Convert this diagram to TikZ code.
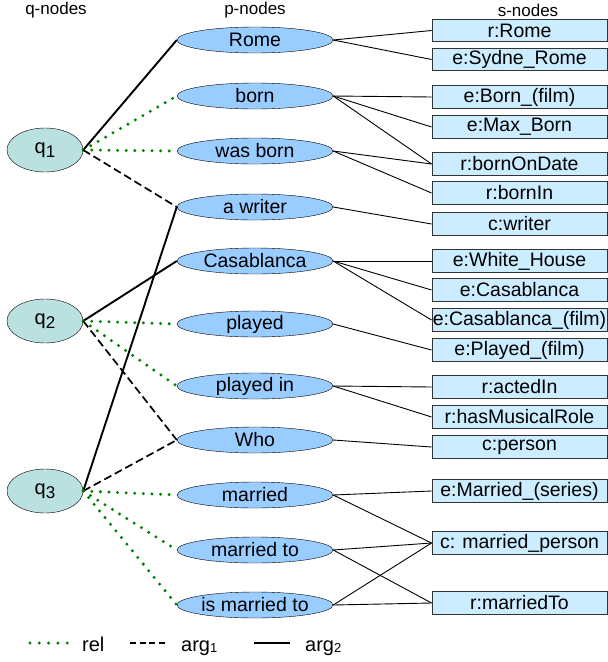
\documentclass[tikz,border=0pt]{standalone}
\usepackage{fontspec}
\setmainfont{Liberation Sans}
\usetikzlibrary{shapes.geometric}
\definecolor{qfill}{RGB}{186,224,224}
\definecolor{pfill}{RGB}{153,204,255}
\definecolor{sfill}{RGB}{204,236,255}
\definecolor{relgreen}{RGB}{0,128,0}
\begin{document}
\begin{tikzpicture}[x=1pt,y=-1pt,
 qnode/.style={ellipse,draw,fill=qfill,minimum width=76pt,minimum height=44pt,inner sep=0pt,font=\fontsize{20}{24}\selectfont},
 pnode/.style={ellipse,draw,fill=pfill,minimum width=156pt,minimum height=26pt,inner sep=0pt,font=\fontsize{19.5}{22}\selectfont},
 snode/.style={rectangle,draw=black!80,line width=0.9pt,fill=sfill,minimum width=175pt,minimum height=22.5pt,inner sep=0pt,font=\fontsize{19.5}{22}\selectfont},
 rel/.style={relgreen,line width=3.3pt,dash pattern=on 0pt off 8.6pt,line cap=round},
 argone/.style={black,line width=1.7pt,dash pattern=on 8pt off 4pt},
 argtwo/.style={black,line width=1.9pt},
 link/.style={black,line width=0.9pt},
 hdr/.style={font=\fontsize{17}{20}\selectfont},
 leg/.style={font=\fontsize{20}{24}\selectfont,inner sep=0pt,anchor=base west}]
\useasboundingbox (0,0) rectangle (608,662);
% headers
\node[hdr] (hq) at (56,10) {q-nodes};
\node[hdr] (hp) at (255,10) {p-nodes};
\node[hdr] (hs) at (528,10) {s-nodes};
% q nodes
\newcommand{\qsub}[1]{q\raisebox{-4pt}{\fontsize{17}{20}\selectfont #1}}
\node[qnode] (q1) at (45,150) {\qsub{1}};
\node[qnode] (q2) at (45,321) {\qsub{2}};
\node[qnode] (q3) at (45,491) {\qsub{3}};
% p nodes
\node[pnode] (rome) at (255,40) {Rome};
\node[pnode] (born) at (255,96) {born};
\node[pnode] (wasborn) at (255,151) {was born};
\node[pnode] (writer) at (255,207) {a writer};
\node[pnode] (casa) at (255,261) {Casablanca};
\node[pnode] (played) at (255,324) {played};
\node[pnode] (playedin) at (255,386) {played in};
\node[pnode] (who) at (255,440) {Who};
\node[pnode] (married) at (255,495) {married};
\node[pnode] (marriedto) at (255,550) {married to};
\node[pnode] (ismarried) at (255,605) {is married to};
% s nodes
\node[snode] (sRome) at (519.5,30.5) {r:Rome};
\node[snode] (sSydne) at (519.5,59.5) {e:Sydne\_Rome};
\node[snode] (sBornFilm) at (519.5,97) {e:Born\_(film)};
\node[snode] (sMax) at (519.5,127) {e:Max\_Born};
\node[snode] (sOnDate) at (519.5,164) {r:bornOnDate};
\node[snode] (sBornIn) at (519.5,193) {r:bornIn};
\node[snode] (sWriter) at (519.5,224) {c:writer};
\node[snode] (sWhite) at (519.5,261) {e:White\_House};
\node[snode] (sCasa) at (519.5,290) {e:Casablanca};
\node[snode] (sCasaFilm) at (519.5,320) {e:Casablanca\_(film)};
\node[snode] (sPlayed) at (519.5,350) {e:Played\_(film)};
\node[snode] (sActed) at (519.5,387) {r:actedIn};
\node[snode] (sMusical) at (519.5,417) {r:hasMusicalRole};
\node[snode] (sPerson) at (519.5,447) {c:person};
\node[snode] (sSeries) at (519.5,491) {e:Married\_(series)};
\node[snode] (sMP) at (519.5,543) {c: married\_person};
\node[snode] (sMT) at (519.5,603) {r:marriedTo};
% q -> p
\draw[argtwo] (q1.east) -- (rome.west);
\draw[rel] (q1.east) -- (born.west);
\draw[rel] (q1.east) -- (wasborn.west);
\draw[argone] (q1.east) -- (writer.west);
\draw[argtwo] (q2.east) -- (casa.west);
\draw[rel] (q2.east) -- (played.west);
\draw[rel] (q2.east) -- (playedin.west);
\draw[argone] (q2.east) -- (who.west);
\draw[argtwo] (q3.east) -- (writer.west);
\draw[argone] (q3.east) -- (who.west);
\draw[rel] (q3.east) -- (married.west);
\draw[rel] (q3.east) -- (marriedto.west);
\draw[rel] (q3.east) -- (ismarried.west);
% p -> s
\draw[link] (rome.east) -- (sRome.west);
\draw[link] (rome.east) -- (sSydne.west);
\draw[link] (born.east) -- (sBornFilm.west);
\draw[link] (born.east) -- (sMax.west);
\draw[link] (born.east) -- (sOnDate.west);
\draw[link] (wasborn.east) -- (sOnDate.west);
\draw[link] (wasborn.east) -- (sBornIn.west);
\draw[link] (writer.east) -- (sWriter.west);
\draw[link] (casa.east) -- (sWhite.west);
\draw[link] (casa.east) -- (sCasa.west);
\draw[link] (casa.east) -- (sCasaFilm.west);
\draw[link] (played.east) -- (sPlayed.west);
\draw[link] (playedin.east) -- (sActed.west);
\draw[link] (playedin.east) -- (sMusical.west);
\draw[link] (who.east) -- (sPerson.west);
\draw[link] (married.east) -- (sSeries.west);
\draw[link] (married.east) -- (sMP.west);
\draw[link] (marriedto.east) -- (sMP.west);
\draw[link] (marriedto.east) -- (sMT.west);
\draw[link] (ismarried.east) -- (sMP.west);
\draw[link] (ismarried.east) -- (sMT.west);
% legend
\coordinate (la1) at (30,643); \coordinate (lb1) at (68,643);
\coordinate (la2) at (130,643); \coordinate (lb2) at (167,643);
\coordinate (la3) at (254,643); \coordinate (lb3) at (290,643);
\draw[rel,dash pattern=on 0pt off 9.3pt] (la1) -- (lb1);
\draw[black,line width=1.7pt,dash pattern=on 6pt off 3.5pt] (la2) -- (lb2);
\draw[argtwo] (la3) -- (lb3);
\node[leg] (lrel) at (82,651) {rel};
\node[leg] (larg1) at (181,651) {arg\raisebox{-1pt}{\fontsize{13}{15}\selectfont 1}};
\node[leg] (larg2) at (305,651) {arg\raisebox{-1pt}{\fontsize{13}{15}\selectfont 2}};
\end{tikzpicture}
\end{document}
